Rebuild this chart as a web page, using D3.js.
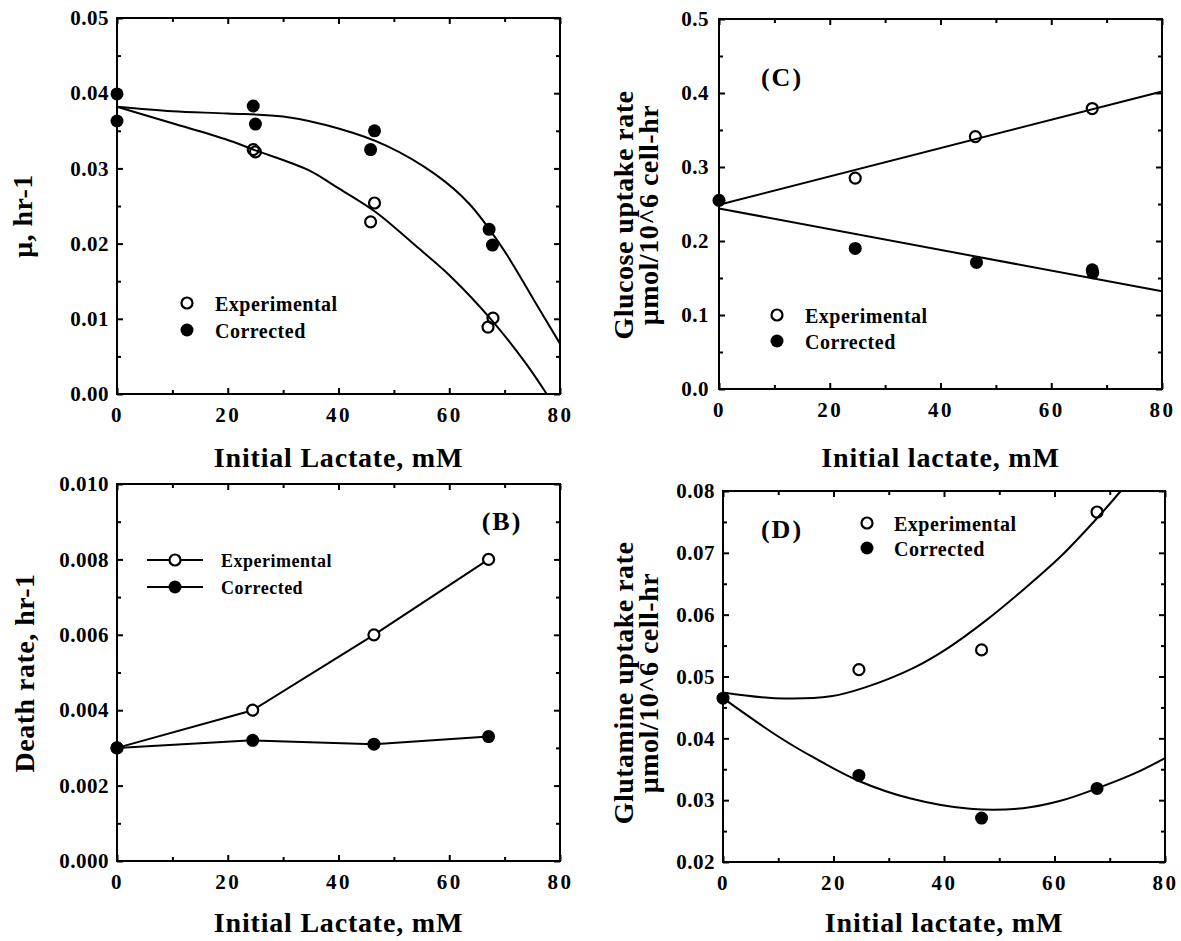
<!DOCTYPE html>
<html>
<head>
<meta charset="utf-8">
<script src="https://cdn.jsdelivr.net/npm/d3@7"></script>
<style>
  body { margin: 0; background: #fff; }
  svg { display: block; background: #fff; }
  text { font-family: "Liberation Serif", "Times New Roman", serif; font-weight: bold; fill: #000; }
</style>
</head>
<body>
<svg id="chart" width="1181" height="941"></svg>
<script>
// ---- values ----
const xTicks = [0, 20, 40, 60, 80];
const xTickLabels = ['0', '20', '40', '60', '80'];
const xMinor = [10, 30, 50, 70];

// (A) growth rate
const aYTicks = [0, 0.01, 0.02, 0.03, 0.04, 0.05];
const aYTickLabels = ['0.00', '0.01', '0.02', '0.03', '0.04', '0.05'];
const aYMinor = [0.005, 0.015, 0.025, 0.035, 0.045];
const aExpX = [24.6, 25.0, 45.8, 46.5, 67.0, 67.9];
const aExpY = [0.0325, 0.0322, 0.0229, 0.0254, 0.0089, 0.0101];
const aCorX = [0, 0, 24.6, 25.0, 45.8, 46.5, 67.2, 67.8];
const aCorY = [0.0399, 0.0363, 0.0383, 0.0359, 0.0325, 0.0350, 0.0219, 0.0198];
const aExpFitX = [0, 10, 19.5, 25, 34.5, 39.9, 46.7, 54.1, 60.3, 67.7, 73.8, 77.6];
const aExpFitY = [0.0382, 0.0360, 0.0339, 0.0324, 0.0298, 0.0274, 0.0242, 0.0196, 0.0156, 0.0098, 0.0041, 0];
const aCorFitX = [0, 10, 20, 30, 40, 48.7, 57.5, 63.6, 69.8, 75.2, 80];
const aCorFitY = [0.0382, 0.0376, 0.0373, 0.0369, 0.0353, 0.0330, 0.0292, 0.0253, 0.0192, 0.0126, 0.0067];

// (B) death rate
const bYTicks = [0, 0.002, 0.004, 0.006, 0.008, 0.010];
const bYTickLabels = ['0.000', '0.002', '0.004', '0.006', '0.008', '0.010'];
const bYMinor = [0.001, 0.003, 0.005, 0.007, 0.009];
const bX = [0, 24.5, 46.4, 67.1];
const bExpY = [0.0030, 0.0040, 0.0060, 0.0080];
const bCorY = [0.0030, 0.0032, 0.0031, 0.0033];

// (C) glucose uptake
const cYTicks = [0, 0.1, 0.2, 0.3, 0.4, 0.5];
const cYTickLabels = ['0.0', '0.1', '0.2', '0.3', '0.4', '0.5'];
const cYMinor = [0.05, 0.15, 0.25, 0.35, 0.45];
const cExpX = [24.6, 46.3, 67.4];
const cExpY = [0.285, 0.341, 0.379];
const cCorX = [0, 24.6, 46.5, 67.4, 67.5];
const cCorY = [0.255, 0.190, 0.171, 0.161, 0.157];
const cExpFitX = [0, 80];
const cExpFitY = [0.249, 0.402];
const cCorFitX = [0, 80];
const cCorFitY = [0.244, 0.132];

// (D) glutamine uptake
const dYTicks = [0.02, 0.03, 0.04, 0.05, 0.06, 0.07, 0.08];
const dYTickLabels = ['0.02', '0.03', '0.04', '0.05', '0.06', '0.07', '0.08'];
const dYMinor = [0.025, 0.035, 0.045, 0.055, 0.065, 0.075];
const dExpX = [24.6, 46.8, 67.7];
const dExpY = [0.0511, 0.0543, 0.0766];
const dCorX = [0, 24.6, 46.8, 67.7];
const dCorY = [0.0465, 0.0340, 0.0271, 0.0319];
const dExpFitX = [0, 9.3, 19.5, 25.6, 34.5, 40.7, 47.5, 54.3, 61.1, 67.9, 72];
const dExpFitY = [0.0474, 0.0465, 0.0468, 0.0482, 0.0514, 0.0546, 0.0590, 0.0640, 0.0694, 0.0758, 0.0800];
const dCorFitX = [0, 10, 16.8, 24.6, 33.8, 44.7, 54.3, 61.1, 67.7, 74.7, 80];
const dCorFitY = [0.0465, 0.0403, 0.0367, 0.0331, 0.0303, 0.0286, 0.0287, 0.0299, 0.0319, 0.0344, 0.0368];

const zip = (xs, ys) => xs.map((v, i) => [v, ys[i]]);

const svg = d3.select('#chart');

function drawPanel(p) {
    const g = svg.append('g').attr('transform', `translate(${p.x},${p.y})`);
    const x = d3.scaleLinear().domain([0, 80]).range([0, p.w]);
    const y = d3.scaleLinear().domain(p.yDomain).range([p.h, 0]);

    const addAxis = (axis, tr) => {
        const a = g.append('g').attr('transform', tr).call(axis);
        a.select('.domain').remove();
        a.attr('font-family', null).attr('font-size', null);
        a.selectAll('line').attr('stroke-width', 2);
        return a;
    };

    // major ticks + labels
    const xa = addAxis(d3.axisBottom(x).tickValues(xTicks)
        .tickFormat((d, i) => xTickLabels[i])
        .tickSizeInner(-6).tickSizeOuter(0).tickPadding(13), `translate(0,${p.h})`);
    xa.selectAll('text').style('font-size', '21px').style('letter-spacing', '2.5px');
    const ya = addAxis(d3.axisLeft(y).tickValues(p.yTicks)
        .tickFormat((d, i) => p.yTickLabels[i])
        .tickSizeInner(-6).tickSizeOuter(0).tickPadding(p.yPad), 'translate(0,0)');
    ya.selectAll('text').style('font-size', '21px').style('letter-spacing', '0.5px');
    addAxis(d3.axisTop(x).tickValues(xTicks).tickFormat('').tickSizeInner(-6).tickSizeOuter(0), 'translate(0,0)');
    addAxis(d3.axisRight(y).tickValues(p.yTicks).tickFormat('').tickSizeInner(-6).tickSizeOuter(0), `translate(${p.w},0)`);

    // minor ticks
    addAxis(d3.axisBottom(x).tickValues(xMinor).tickFormat('').tickSizeInner(-4).tickSizeOuter(0), `translate(0,${p.h})`);
    addAxis(d3.axisTop(x).tickValues(xMinor).tickFormat('').tickSizeInner(-4).tickSizeOuter(0), 'translate(0,0)');
    addAxis(d3.axisLeft(y).tickValues(p.yMinor).tickFormat('').tickSizeInner(-4).tickSizeOuter(0), 'translate(0,0)');
    addAxis(d3.axisRight(y).tickValues(p.yMinor).tickFormat('').tickSizeInner(-4).tickSizeOuter(0), `translate(${p.w},0)`);

    // frame
    g.append('rect').attr('width', p.w).attr('height', p.h)
        .attr('fill', 'none').attr('stroke', '#000').attr('stroke-width', 2);

    // axis titles
    g.append('text').attr('x', p.w / 2).attr('y', p.xTitleY)
        .attr('text-anchor', 'middle').style('font-size', '28px').style('letter-spacing', '0.8px')
        .text(p.xTitle);
    p.yTitle.forEach((t, i) => {
        g.append('text')
            .attr('transform', `translate(${p.yTitleX[i]},${p.yTitleCY}) rotate(-90)`)
            .attr('text-anchor', 'middle').style('font-size', '28px').style('letter-spacing', '0.5px')
            .text(t);
    });

    // panel tag
    if (p.tag) {
        g.append('text').attr('x', p.tagX).attr('y', p.tagY).attr('text-anchor', 'middle')
            .style('font-size', '26px').style('letter-spacing', '2px').text(p.tag);
    }

    const line = d3.line().x(d => x(d[0])).y(d => y(d[1]));
    p.lines.forEach(l => {
        g.append('path').datum(l.pts)
            .attr('d', line.curve(l.smooth ? d3.curveCatmullRom.alpha(0.5) : d3.curveLinear))
            .attr('fill', 'none').attr('stroke', '#000').attr('stroke-width', 2);
    });

    p.points.forEach(s => {
        g.selectAll(null).data(s.pts).enter().append('circle')
            .attr('cx', d => x(d[0])).attr('cy', d => y(d[1]))
            .attr('r', s.open ? 5.5 : 6.5)
            .attr('fill', s.open ? s.openFill : '#000')
            .attr('stroke', '#000').attr('stroke-width', s.open ? 2.2 : 0);
    });

    // legend
    const lg = g.append('g').attr('transform', `translate(${p.legend.x},${p.legend.y})`);
    ['Experimental', 'Corrected'].forEach((name, i) => {
        const row = lg.append('g').attr('transform', `translate(0,${i * p.legend.dy})`);
        if (p.legend.line) {
            row.append('line').attr('x1', -28).attr('x2', 28)
                .attr('stroke', '#000').attr('stroke-width', 2);
        }
        row.append('circle').attr('r', i === 0 ? 5.5 : 6.5)
            .attr('fill', i === 0 ? '#fff' : '#000')
            .attr('stroke', '#000').attr('stroke-width', i === 0 ? 2.2 : 0);
        row.append('text').attr('x', p.legend.tx).attr('y', p.legend.base)
            .style('font-size', p.legend.fs + 'px').style('letter-spacing', '0.5px').text(name);
    });
}

drawPanel({
    x: 117, y: 18, w: 443, h: 376,
    yDomain: [0, 0.05], yTicks: aYTicks, yTickLabels: aYTickLabels, yMinor: aYMinor, yPad: 8,
    xTitle: 'Initial Lactate, mM', xTitleY: 449,
    yTitle: ['\u03bc, hr-1'], yTitleX: [-85], yTitleCY: 198,
    lines: [
        { pts: zip(aExpFitX, aExpFitY), smooth: true },
        { pts: zip(aCorFitX, aCorFitY), smooth: true }
    ],
    points: [
        { pts: zip(aExpX, aExpY), open: true, openFill: 'none' },
        { pts: zip(aCorX, aCorY), open: false }
    ],
    legend: { x: 70, y: 285, dy: 27, tx: 28, base: 8, fs: 20 }
});

drawPanel({
    x: 117, y: 484, w: 443, h: 377,
    yDomain: [0, 0.010], yTicks: bYTicks, yTickLabels: bYTickLabels, yMinor: bYMinor, yPad: 8,
    xTitle: 'Initial Lactate, mM', xTitleY: 448,
    yTitle: ['Death rate, hr-1'], yTitleX: [-83], yTitleCY: 189,
    tag: '(B)', tagX: 385, tagY: 46,
    lines: [
        { pts: zip(bX, bExpY), smooth: false },
        { pts: zip(bX, bCorY), smooth: false }
    ],
    points: [
        { pts: zip(bX, bExpY), open: true, openFill: '#fff' },
        { pts: zip(bX, bCorY), open: false }
    ],
    legend: { x: 58, y: 76, dy: 27, tx: 46, base: 7, fs: 18, line: true }
});

drawPanel({
    x: 719, y: 19, w: 443, h: 370,
    yDomain: [0, 0.5], yTicks: cYTicks, yTickLabels: cYTickLabels, yMinor: cYMinor, yPad: 10,
    xTitle: 'Initial lactate, mM', xTitleY: 448,
    yTitle: ['Glucose uptake rate', '\u03bcmol/10^6 cell-hr'], yTitleX: [-86, -61], yTitleCY: 196,
    tag: '(C)', tagX: 63, tagY: 67,
    lines: [
        { pts: zip(cExpFitX, cExpFitY), smooth: false },
        { pts: zip(cCorFitX, cCorFitY), smooth: false }
    ],
    points: [
        { pts: zip(cExpX, cExpY), open: true, openFill: 'none' },
        { pts: zip(cCorX, cCorY), open: false }
    ],
    legend: { x: 58, y: 296, dy: 26, tx: 28, base: 8, fs: 20 }
});

drawPanel({
    x: 723, y: 491, w: 442, h: 371,
    yDomain: [0.02, 0.08], yTicks: dYTicks, yTickLabels: dYTickLabels, yMinor: dYMinor, yPad: 8,
    xTitle: 'Initial lactate, mM', xTitleY: 441,
    yTitle: ['Glutamine uptake rate', '\u03bcmol/10^6 cell-hr'], yTitleX: [-90, -65], yTitleCY: 192,
    tag: '(D)', tagX: 59, tagY: 47,
    lines: [
        { pts: zip(dExpFitX, dExpFitY), smooth: true },
        { pts: zip(dCorFitX, dCorFitY), smooth: true }
    ],
    points: [
        { pts: zip(dExpX, dExpY), open: true, openFill: 'none' },
        { pts: zip(dCorX, dCorY), open: false }
    ],
    legend: { x: 144, y: 32, dy: 25, tx: 27, base: 8, fs: 20 }
});
</script>
</body>
</html>
